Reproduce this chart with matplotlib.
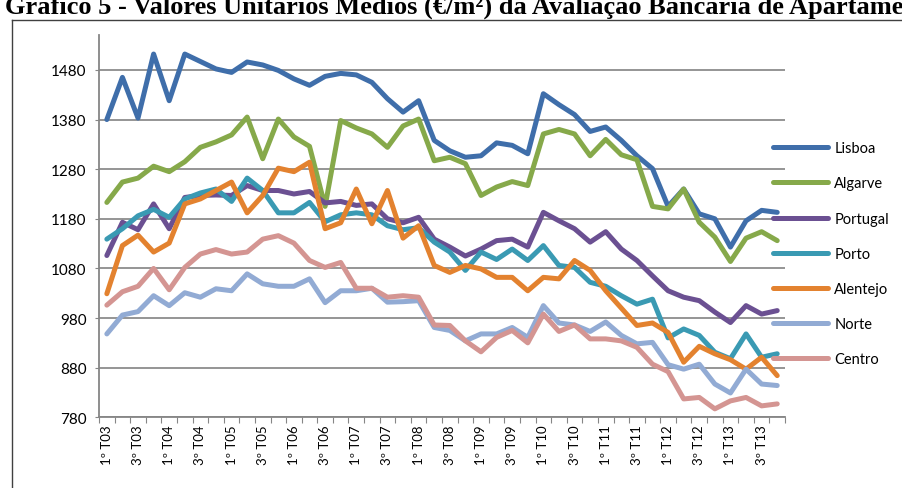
import numpy as np
import matplotlib.pyplot as plt
from matplotlib.lines import Line2D

# quarters 1º T03 .. 4º T13
years = [f"{y:02d}" for y in range(3, 14)]
quarters = [f"{q}º T{y}" for y in years for q in range(1, 5)]

lisboa = [1380, 1465, 1383, 1512, 1418, 1512, 1497, 1482, 1475, 1496, 1490,
          1479, 1462, 1449, 1467, 1473, 1470, 1455, 1422, 1395, 1418, 1338,
          1317, 1304, 1307, 1333, 1328, 1311, 1432, 1410, 1390, 1356, 1365,
          1338, 1307, 1281, 1205, 1240, 1190, 1180, 1123, 1176, 1197, 1193]
algarve = [1213, 1254, 1262, 1286, 1275, 1295, 1324, 1335, 1349, 1385, 1301,
           1381, 1345, 1326, 1205, 1378, 1363, 1351, 1324, 1367, 1381, 1297,
           1304, 1291, 1227, 1244, 1255, 1247, 1351, 1360, 1351, 1307, 1340,
           1309, 1299, 1205, 1200, 1240, 1173, 1143, 1094, 1141, 1154, 1136]
portugal = [1106, 1173, 1158, 1210, 1160, 1223, 1227, 1228, 1227, 1247, 1237,
            1237, 1230, 1235, 1212, 1215, 1207, 1210, 1180, 1172, 1183, 1139,
            1123, 1105, 1119, 1136, 1139, 1123, 1193, 1176, 1160, 1133, 1154,
            1119, 1096, 1065, 1035, 1022, 1015, 992, 971, 1005, 988, 995]
porto = [1139, 1160, 1186, 1199, 1183, 1220, 1232, 1240, 1215, 1262, 1237,
         1192, 1192, 1213, 1174, 1188, 1192, 1188, 1166, 1158, 1162, 1133,
         1113, 1076, 1113, 1098, 1119, 1096, 1126, 1086, 1082, 1052, 1044,
         1025, 1008, 1018, 940, 958, 945, 911, 898, 948, 901, 908]
alentejo = [1029, 1126, 1147, 1113, 1131, 1210, 1220, 1237, 1254, 1192, 1227,
            1282, 1275, 1294, 1160, 1172, 1240, 1170, 1237, 1141, 1166, 1086,
            1072, 1086, 1079, 1062, 1062, 1035, 1062, 1059, 1096, 1076, 1035,
            1000, 965, 970, 951, 891, 923, 908, 896, 877, 901, 864]
norte = [948, 986, 993, 1025, 1005, 1031, 1022, 1039, 1035, 1069, 1049,
         1044, 1044, 1059, 1011, 1035, 1035, 1040, 1012, 1013, 1015, 961,
         955, 934, 948, 948, 961, 941, 1005, 970, 966, 953, 972, 945,
         928, 931, 886, 877, 887, 847, 829, 877, 847, 844]
centro = [1006, 1033, 1044, 1080, 1037, 1082, 1109, 1118, 1109, 1113, 1139,
          1146, 1131, 1096, 1082, 1092, 1040, 1040, 1022, 1025, 1022, 966,
          965, 934, 912, 941, 955, 930, 988, 953, 966, 938, 938, 934, 921,
          887, 872, 817, 820, 797, 813, 820, 803, 807]

series = [
    ("Lisboa", lisboa, "#3F6EAA"),
    ("Algarve", algarve, "#86A94A"),
    ("Portugal", portugal, "#6B5092"),
    ("Porto", porto, "#3A9AB3"),
    ("Alentejo", alentejo, "#E3822F"),
    ("Norte", norte, "#92ABD4"),
    ("Centro", centro, "#D49592"),
]
yticks = [780, 880, 980, 1080, 1180, 1280, 1380, 1480]

plt.rcParams["font.family"] = ["Lato", "DejaVu Sans"]

fig = plt.figure(figsize=(9.02, 4.89), dpi=100)
ax = fig.add_axes([0.1098, 0.1446, 0.7605, 0.7814])

x = np.arange(len(quarters))
for name, vals, col in series:
    ax.plot(x, vals, color=col, lw=3.6, label=name, solid_capstyle="round",
            solid_joinstyle="round")

ax.set_xlim(-0.5, len(quarters) - 0.5)
ax.set_ylim(780, 1550)
ax.set_yticks(yticks)
ax.set_yticklabels([str(v) for v in yticks], fontsize=11)
ax.yaxis.grid(True, color="#8C8C8C", lw=1.3)
ax.set_axisbelow(True)

# tick marks at category boundaries, labels every second quarter
ax.set_xticks(np.arange(-0.5, len(quarters), 1))
ax.set_xticklabels([])
ax.set_xticks(x[::2], minor=True)
ax.set_xticklabels(quarters[::2], minor=True, rotation=90, fontsize=9.5)
ax.tick_params(axis="x", which="major", length=4, color="#868686")
ax.tick_params(axis="x", which="minor", length=0, pad=5)
ax.tick_params(axis="y", length=3, color="#868686", pad=6)

for s in ["top", "right"]:
    ax.spines[s].set_visible(False)
for s in ["left", "bottom"]:
    ax.spines[s].set_color("#868686")
    ax.spines[s].set_linewidth(1.3)

fig.legend(loc="center left", bbox_to_anchor=(0.857, 0.479), frameon=False,
           fontsize=10.5, handlelength=3.8, handletextpad=0.4,
           labelspacing=1.45, borderpad=0, borderaxespad=0)

# title is clipped by the top/right edges, as in the source page
fig.text(0.006, 1 - 14 / 489,
         "Gráfico 5 - Valores Unitários Médios (€/m²) da Avaliação Bancária de Apartamentos",
         family=["Liberation Serif", "DejaVu Serif"], weight="bold", fontsize=19,
         va="baseline")

# outer frame of the chart box
fig.add_artist(Line2D([12 / 902, 12 / 902], [0, 1 - 21 / 489], color="#404040",
                      lw=1.0, transform=fig.transFigure))
fig.add_artist(Line2D([12 / 902, 1], [1 - 21 / 489, 1 - 21 / 489],
                      color="#404040", lw=1.0, transform=fig.transFigure))

fig.savefig("out.png", dpi=100)
